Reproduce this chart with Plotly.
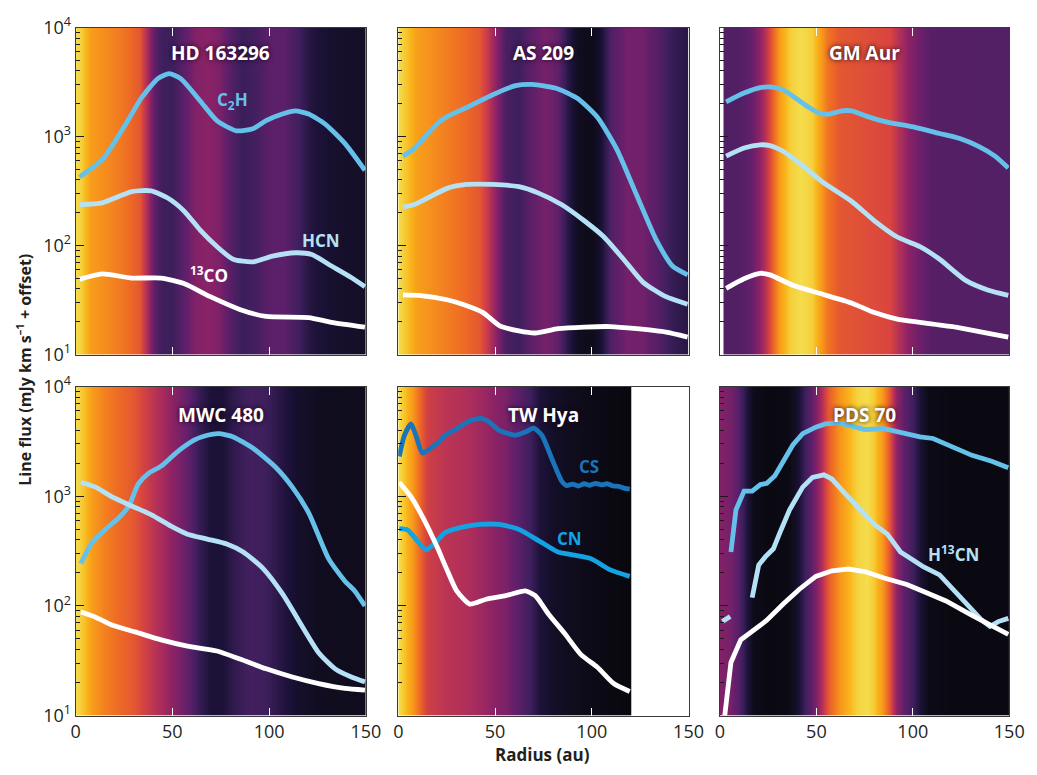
import numpy as np
import plotly.graph_objects as go

# ---------------- radial line-flux profiles (radius in au, flux in mJy km/s + offset)
# HD 163296
hd_r_c2h = [2, 14, 26, 34, 42.5, 48.4, 54.3, 64.5, 73, 83, 91.6, 98.4, 106.8, 113.6, 120.4, 128.8, 139, 149.5]
hd_f_c2h = [425, 620, 1310, 2260, 3400, 3780, 3400, 2110, 1400, 1130, 1180, 1400, 1610, 1720, 1610, 1310, 870, 490]
hd_r_hcn = [2, 13.7, 29, 39, 47.6, 56, 64.5, 73, 81.4, 91.6, 101.7, 113.6, 122, 132.2, 142.4, 149.5]
hd_f_hcn = [238, 247, 313, 318, 273, 208, 138, 98, 75, 71, 80, 86, 83, 65, 51, 42]
hd_r_co = [2, 13.7, 29, 44.2, 56, 69.6, 84.8, 98.4, 120.4, 132.2, 149.5]
hd_f_co = [49, 55, 50.4, 50.4, 44.9, 34, 26, 22.4, 21.9, 19.8, 17.9]

# AS 209
as_r_c2h = [2.4, 6.6, 11.7, 20.1, 25.2, 37, 48.8, 60.6, 69.1, 82.6, 92.7, 102.9, 113, 123.1, 133.3, 141.7, 149.5]
as_f_c2h = [662, 735, 902, 1313, 1525, 1906, 2420, 2930, 3010, 2737, 2232, 1502, 760, 293, 113, 65, 54]
as_r_hcn = [2.4, 8.3, 25.2, 35.3, 48.8, 62.3, 72.5, 84.3, 96.1, 106.3, 116.4, 126.5, 138.3, 149.5]
as_f_hcn = [226, 238, 335, 364, 364, 347, 303, 238, 169, 120, 75, 46, 34, 29]
as_r_co = [2.4, 11.7, 25.2, 33.6, 43.8, 52.2, 62.3, 70.8, 82.6, 96.1, 109.6, 123.1, 138.3, 149.5]
as_f_co = [35.3, 34.8, 31.9, 28.8, 24.3, 18.5, 16.5, 15.8, 17.3, 17.9, 18.1, 17.3, 16.1, 14.5]

# GM Aur
gm_r_c2h = [3.2, 12.5, 20.9, 26, 32.8, 39.5, 46.3, 51.4, 56.4, 63.2, 68.2, 76.7, 86.8, 100.3, 113.9, 124, 134.1, 142.6, 149.5]
gm_f_c2h = [2084, 2506, 2812, 2851, 2680, 2232, 1845, 1642, 1608, 1722, 1722, 1524, 1357, 1225, 1068, 964, 813, 662, 515]
gm_r_hcn = [3.2, 12.5, 20.9, 26, 32.8, 42.9, 53, 68.2, 80.1, 91.9, 103.7, 113.9, 127.4, 139.2, 149.5]
gm_f_hcn = [662, 785, 841, 825, 734, 540, 385, 255, 169, 120, 98, 75, 48, 39, 35]
gm_r_co = [3.2, 12.5, 20.9, 26, 37.8, 51.4, 68.2, 80.1, 91.9, 103.7, 122.3, 135.8, 149.5]
gm_f_co = [40.5, 49.6, 55.7, 53.9, 43.3, 36.6, 29.8, 24.3, 21.2, 19.8, 17.9, 16.1, 14.5]

# MWC 480
mwc_r_c2h = [2.7, 8.6, 15.4, 22.2, 27.3, 32.4, 37.5, 44.2, 52.7, 61.2, 68, 73.9, 81.5, 91.7, 103.6, 112, 120.5, 130.7, 139.2, 144.2, 149.5]
mwc_f_c2h = [244, 380, 499, 634, 804, 1295, 1610, 1883, 2558, 3250, 3600, 3723, 3478, 2740, 1820, 1210, 702, 270, 168, 137, 100]
mwc_r_hcn = [2.7, 10.3, 18.8, 29, 39.2, 49.3, 57.8, 68, 78.1, 86.6, 96.8, 107, 117.1, 125.6, 134.1, 142.5, 149.5]
mwc_f_hcn = [1340, 1210, 986, 815, 678, 534, 451, 407, 367, 310, 220, 128, 65, 37.5, 26.7, 22.5, 20.3]
mwc_r_co = [2.7, 10.3, 18.8, 30.7, 44.2, 57.8, 73, 84.9, 98.5, 112, 125.6, 139.2, 149.5]
mwc_f_co = [88, 79, 67, 58, 49, 43, 38.8, 32.8, 26.7, 22.5, 19.6, 17.7, 17.1]

# TW Hya
tw_r_cs = [0.5, 3.2, 6.6, 9.1, 12.5, 16.7, 20.1, 24.3, 30.2, 37, 42.9, 47.1, 52.2, 60.6, 65.7, 69.9, 74.2, 79.2,
           84.3, 87, 90, 93, 96, 99, 102, 105, 108, 111, 114, 117, 119.6]
tw_f_cs = [2310, 3600, 4570, 3600, 2474, 2741, 3034, 3600, 4124, 4889, 5127, 4730, 3990, 3600, 3856, 4180, 3600, 2232,
           1390, 1250, 1290, 1240, 1300, 1260, 1310, 1270, 1300, 1240, 1230, 1180, 1160]
tw_r_cn = [0.5, 4.9, 9.1, 14.2, 18.4, 24.3, 31.9, 42.1, 52.2, 62.3, 72.5, 82.6, 91, 99.5, 109.6, 119.6]
tw_f_cn = [506, 492, 407, 325, 367, 467, 517, 553, 553, 499, 394, 310, 290, 270, 213, 186]
tw_r_co = [0.5, 6.6, 13.3, 20.1, 25.2, 30.2, 37, 45.4, 55.6, 65.7, 70.8, 77.5, 86, 94.4, 102.9, 111.3, 119.6]
tw_f_co = [1340, 986, 612, 344, 213, 137, 104, 115, 124, 137, 124, 85, 56, 36, 27.6, 19.6, 16.6]

# PDS 70
pds_r_c2h = [5.7, 8.3, 12.5, 16.7, 21, 24.3, 28.5, 32.8, 37.8, 42.9, 49.7, 54.7, 61.5, 68.2, 75, 85.1, 93.6, 103.7,
             110.5, 120.6, 130.7, 140.9, 149.5]
pds_f_c2h = [310, 751, 1115, 1115, 1278, 1313, 1536, 2089, 2932, 3723, 4266, 4570, 4667, 4355, 4064, 4124, 3801, 3478,
             3364, 2839, 2360, 2089, 1821]
pds_r_h13cn = [16.7, 20.1, 23.5, 27.7, 31.1, 36.1, 42.9, 48, 53.9, 58.1, 64.9, 73.3, 80.1, 86.8, 93.6, 100.3, 105.4,
               113.9, 120.6, 129.1, 135.8, 140, 144.3, 149.5]
pds_f_h13cn = [119, 236, 280, 332, 467, 751, 1211, 1486, 1568, 1435, 1057, 751, 553, 451, 310, 261, 228, 192, 142, 97,
               74, 65, 72, 77]
pds_r_h13cn_in = [1.3, 5.3]
pds_f_h13cn_in = [72, 80]
pds_r_co = [2.2, 5.7, 10.8, 17.6, 24.3, 32.8, 41.2, 49.7, 58.1, 66.6, 75, 85.1, 96.9, 107.1, 117.2, 130.7, 140.9, 149.5]
pds_f_co = [9, 30.5, 49, 60, 74, 104, 142, 186, 209, 217, 206, 180, 157, 132, 111, 82, 67, 55]

# ---------------- continuum intensity profiles (normalised) used as backgrounds
hd_bg_r = [0, 3, 8, 15, 22, 28, 33, 37, 41, 45, 50, 56, 62, 68, 74, 80, 86, 92, 100, 108, 114, 122, 132, 150]
hd_bg_v = [1.0, 0.97, 0.86, 0.82, 0.78, 0.74, 0.70, 0.56, 0.38, 0.28, 0.28, 0.38, 0.48, 0.50, 0.47, 0.36, 0.27, 0.30, 0.38, 0.38, 0.30, 0.18, 0.13, 0.10]
as_bg_r = [0, 4, 10, 18, 26, 34, 42, 47, 51, 56, 62, 68, 76, 82, 88, 93, 100, 104, 110, 118, 126, 134, 142, 150]
as_bg_v = [1.0, 0.95, 0.86, 0.82, 0.78, 0.74, 0.70, 0.60, 0.48, 0.32, 0.28, 0.38, 0.45, 0.40, 0.20, 0.08, 0.06, 0.12, 0.35, 0.44, 0.44, 0.36, 0.25, 0.20]
gm_bg_r = [2, 2.3, 10, 17, 22, 27, 31, 36, 42, 48, 52, 56, 62, 75, 88, 93, 98, 104, 110, 150]
gm_bg_v = [0.34, 0.34, 0.35, 0.42, 0.55, 0.72, 0.86, 0.97, 1.0, 0.97, 0.86, 0.76, 0.70, 0.68, 0.66, 0.58, 0.50, 0.42, 0.36, 0.35]
mwc_bg_r = [0, 4, 9, 15, 22, 30, 38, 45, 52, 58, 64, 70, 76, 82, 90, 98, 106, 114, 125, 150]
mwc_bg_v = [1.0, 0.95, 0.85, 0.79, 0.74, 0.70, 0.62, 0.56, 0.48, 0.40, 0.25, 0.16, 0.16, 0.24, 0.30, 0.28, 0.20, 0.12, 0.08, 0.07]
tw_bg_r = [0, 3, 7, 11, 15, 25, 35, 45, 55, 62, 68, 73, 80, 90, 100, 110, 119.6, 120]
tw_bg_v = [1.0, 0.95, 0.85, 0.74, 0.64, 0.60, 0.58, 0.53, 0.47, 0.38, 0.28, 0.17, 0.10, 0.07, 0.05, 0.03, 0.02, 0.02]
pds_bg_r = [0, 5, 9, 13, 17, 25, 35, 40, 44, 48, 52, 56, 61, 66, 71, 76, 80, 84, 88, 91, 95, 100, 104, 108, 120, 150]
pds_bg_v = [0.48, 0.45, 0.38, 0.22, 0.06, 0.03, 0.04, 0.12, 0.28, 0.42, 0.55, 0.70, 0.82, 0.90, 0.98, 1.0, 0.96, 0.85, 0.68, 0.52, 0.40, 0.28, 0.14, 0.05, 0.03, 0.03]

disk_names = ["HD 163296", "AS 209", "GM Aur", "MWC 480", "TW Hya", "PDS 70"]

# ---------------- styling
C2H_COL = "#66c1ea"
HCN_COL = "#b5e1f6"
CO_COL = "#ffffff"
CS_COL = "#1a74ba"
CN_COL = "#13a2e2"
FONT = "Open Sans"
TXT = "#231f20"

cmap = [
    [0.00, "#060608"], [0.08, "#110d20"], [0.16, "#1c1238"], [0.28, "#3d1f5c"],
    [0.40, "#621f6b"], [0.50, "#8a2266"], [0.58, "#b02f5a"], [0.66, "#d9453f"],
    [0.74, "#ee6a25"], [0.84, "#f7961c"], [0.92, "#f9b51a"], [1.00, "#f4dd4d"],
]

W, H = 1037, 775
col_px = [(72, 368), (401, 697), (729, 1024)]
row_px = [(14, 352), (385, 725)]

fig = go.Figure()

backgrounds = [(hd_bg_r, hd_bg_v), (as_bg_r, as_bg_v), (gm_bg_r, gm_bg_v),
               (mwc_bg_r, mwc_bg_v), (tw_bg_r, tw_bg_v), (pds_bg_r, pds_bg_v)]

lines = [
    [(hd_r_c2h, hd_f_c2h, C2H_COL), (hd_r_hcn, hd_f_hcn, HCN_COL), (hd_r_co, hd_f_co, CO_COL)],
    [(as_r_c2h, as_f_c2h, C2H_COL), (as_r_hcn, as_f_hcn, HCN_COL), (as_r_co, as_f_co, CO_COL)],
    [(gm_r_c2h, gm_f_c2h, C2H_COL), (gm_r_hcn, gm_f_hcn, HCN_COL), (gm_r_co, gm_f_co, CO_COL)],
    [(mwc_r_c2h, mwc_f_c2h, C2H_COL), (mwc_r_hcn, mwc_f_hcn, HCN_COL), (mwc_r_co, mwc_f_co, CO_COL)],
    [(tw_r_cs, tw_f_cs, CS_COL), (tw_r_cn, tw_f_cn, CN_COL), (tw_r_co, tw_f_co, CO_COL)],
    [(pds_r_c2h, pds_f_c2h, C2H_COL), (pds_r_h13cn, pds_f_h13cn, HCN_COL),
     (pds_r_h13cn_in, pds_f_h13cn_in, HCN_COL), (pds_r_co, pds_f_co, CO_COL)],
]

minor_vals = [m * 10 ** e for e in (1, 2, 3) for m in range(2, 10)]

layout = dict(
    width=W, height=H, margin=dict(l=0, r=0, t=0, b=0),
    paper_bgcolor="white", plot_bgcolor="white", showlegend=False,
    font=dict(family=FONT, size=17, color=TXT),
)

annotations = []

for i in range(6):
    row, col = divmod(i, 3)
    n = i + 1
    xs = "" if n == 1 else str(n)
    xa, ya = "x" + xs, "y" + xs
    x0, x1 = col_px[col]
    y0, y1 = row_px[row]

    r_bg, v_bg = backgrounds[i]
    fig.add_trace(go.Heatmap(
        x=r_bg, y=[1, 1000, 1e6], z=[v_bg, v_bg], zmin=0, zmax=1,
        colorscale=cmap, showscale=False, zsmooth="best", hoverinfo="skip",
        xaxis=xa, yaxis=ya,
    ))

    smooth = i not in (5,)
    for r, f, c in lines[i]:
        fig.add_trace(go.Scatter(
            x=r, y=f, mode="lines", xaxis=xa, yaxis=ya, hoverinfo="skip",
            line=dict(color=c, width=4.8, shape="spline" if smooth else "linear", smoothing=0.6),
        ))

    bottom = row == 1
    layout["xaxis" + xs] = dict(
        domain=[x0 / W, x1 / W], anchor=ya, range=[0, 150],
        tickmode="array", tickvals=[0, 50, 100, 150], ticks="inside", ticklen=8,
        tickcolor="white", tickwidth=1.2, showticklabels=bottom,
        showline=True, linecolor="#3a3a3a", linewidth=1, mirror="ticks",
        showgrid=False, zeroline=False, tickfont=dict(size=18, color=TXT),
    )
    layout["yaxis" + xs] = dict(
        domain=[1 - y1 / H, 1 - y0 / H], anchor=xa, type="log", range=[1, 4],
        tickmode="array", tickvals=[10, 100, 1000, 10000],
        ticktext=["10<sup>1</sup>", "10<sup>2</sup>", "10<sup>3</sup>", "10<sup>4</sup>"],
        ticks="inside", ticklen=8, tickcolor="#1a1a1a", tickwidth=1.2,
        minor=dict(tickmode="array", tickvals=minor_vals, ticks="inside", ticklen=4,
                   tickcolor="#1a1a1a", tickwidth=1, showgrid=False),
        showticklabels=(col == 0), showline=True, linecolor="#3a3a3a", linewidth=1, mirror=True,
        showgrid=False, zeroline=False, tickfont=dict(size=18, color=TXT),
    )
    # right-hand tick marks
    rc = "#1a1a1a" if i == 4 else "white"
    layout["yaxis" + str(n + 6)] = dict(
        overlaying=ya, anchor=xa, side="right", type="log", range=[1, 4],
        tickmode="array", tickvals=[10, 100, 1000, 10000], ticks="inside", ticklen=7,
        tickcolor=rc, tickwidth=1.2, showticklabels=False,
        minor=dict(tickmode="array", tickvals=minor_vals, ticks="inside", ticklen=5,
                   tickcolor=rc, tickwidth=1, showgrid=False),
        showline=False, showgrid=False, zeroline=False,
    )

    # disk name
    ty = 3.77 if row == 0 else 3.745
    annotations.append(dict(
        x=75, y=ty, xref=xa, yref=ya, text="<b>%s</b>" % disk_names[i], showarrow=False,
        font=dict(family=FONT, size=19, color="white", shadow="0px 0px 5px rgba(30,0,20,0.95)"),
        xanchor="center", yanchor="middle",
    ))


def mol_label(xref, yref, x, val, text, color):
    annotations.append(dict(
        x=x, y=np.log10(val), xref=xref, yref=yref, text="<b>%s</b>" % text, showarrow=False,
        font=dict(family=FONT, size=17, color=color), xanchor="center", yanchor="middle",
    ))


mol_label("x", "y", 81, 2150, "C<sub>2</sub>H", C2H_COL)
mol_label("x", "y", 127, 112, "HCN", HCN_COL)
mol_label("x", "y", 69, 54, "<sup>13</sup>CO", CO_COL)
mol_label("x5", "y5", 98.5, 1860, "CS", CS_COL)
mol_label("x5", "y5", 88.5, 410, "CN", CN_COL)
mol_label("x6", "y6", 121, 300, "H<sup>13</sup>CN", HCN_COL)

annotations.append(dict(
    x=20 / W, y=1 - 368 / H, xref="paper", yref="paper", textangle=-90,
    text="<b>Line flux (mJy km s<sup>–1</sup> + offset)</b>", showarrow=False,
    font=dict(family=FONT, size=16, color=TXT), xanchor="center", yanchor="middle",
))
annotations.append(dict(
    x=548 / W, y=1 - 765 / H, xref="paper", yref="paper",
    text="<b>Radius (au)</b>", showarrow=False,
    font=dict(family=FONT, size=17, color=TXT), xanchor="center", yanchor="middle",
))

layout["annotations"] = annotations
fig.update_layout(**layout)
fig.write_html("out.html")
